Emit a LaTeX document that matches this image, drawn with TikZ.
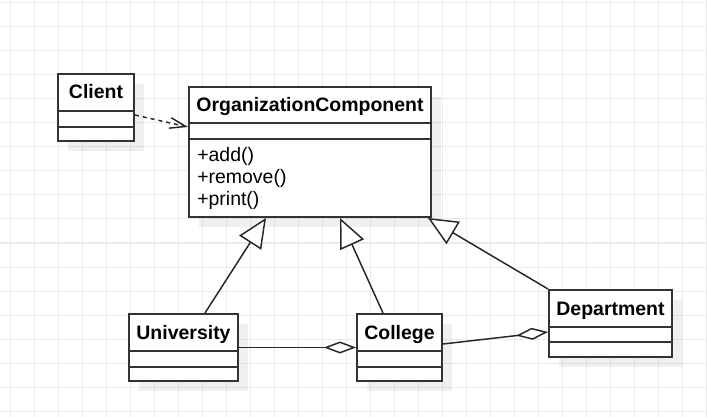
\documentclass[tikz,border=0pt]{standalone}
\usepackage{fontspec}
\setmainfont{Liberation Sans}
\usetikzlibrary{arrows.meta,calc,shadows}

\begin{document}
\begin{tikzpicture}[x=0.75pt,y=-0.75pt,
    gridline/.style={draw=black!8,line width=0.75pt},
    classbox/.style 2 args={draw=black!80,fill=white,line width=1.5pt,inner sep=0pt,
        minimum width=#1,minimum height=#2,
        drop shadow={shadow xshift=7.5pt,shadow yshift=-7.5pt,fill=black,opacity=0.06}},
    sepline/.style={draw=black!80,line width=1.2pt},
    titletext/.style={font=\fontsize{14.6pt}{17pt}\selectfont\bfseries,inner sep=0pt,anchor=base},
    optext/.style={font=\fontsize{14.6pt}{17pt}\selectfont,inner sep=0pt,anchor=base west},
    dep/.style={draw=black!85,line width=1.1pt,dash pattern=on 3pt off 3pt,
        -{Straight Barb[length=12pt,width=8pt]}},
    gen/.style={draw=black!85,line width=1.1pt,
        -{Triangle[open,length=22pt,width=19.5pt,fill=white]}},
    agg/.style={draw=black!85,line width=1.1pt,
        -{Diamond[open,length=24pt,width=9pt,fill=white]}}]
\useasboundingbox (0,0) rectangle (707,417);
\fill[white] (0,0) rectangle (707,417);
% background grid
\foreach \gx in {10,34,...,706} \draw[gridline] (\gx,0) -- (\gx,417);
\foreach \gy in {3,27,...,411} \draw[gridline] (0,\gy) -- (707,\gy);

% classes
\node[classbox={57pt}{50.25pt}] (client) at (96,107.5) {};
\node[classbox={181.5pt}{97.5pt}] (org) at (310,152) {};
\node[classbox={81.75pt}{50.25pt}] (univ) at (183.5,347.5) {};
\node[classbox={63.75pt}{50.25pt}] (college) at (399.5,347.5) {};
\node[classbox={92.25pt}{50.25pt}] (dept) at (610.5,323.5) {};

\foreach \cls/\ya/\yb in {client/38/54, org/37/53, univ/38/54, college/38/54, dept/38/53} {
    \draw[sepline] ($(\cls.north west)+(0,\ya)$) -- ($(\cls.north east)+(0,\ya)$);
    \draw[sepline] ($(\cls.north west)+(0,\yb)$) -- ($(\cls.north east)+(0,\yb)$);
}

\node[titletext] (clienttitle) at ($(client.north)+(0,26)$) {Client};
\node[titletext] (orgtitle) at ($(org.north)+(0,25.5)$) {OrganizationComponent};
\node[titletext] (univtitle) at ($(univ.north)+(0,26)$) {University};
\node[titletext] (collegetitle) at ($(college.north)+(0,26)$) {College};
\node[titletext] (depttitle) at ($(dept.north)+(0,26)$) {Department};

\node[optext] (addop) at (197,162) {+add()};
\node[optext] (removeop) at (197,183.5) {+remove()};
\node[optext] (printop) at (197,205) {+print()};

% relations
\draw[dep] ($(client.east)+(0,7.5)$) -- ($(org.west)+(0,-25)$);
\draw[gen] ($(univ.north)+(21.5,0)$) -- ($(org.south)+(-44,0)$);
\draw[gen] ($(college.north)+(-16.5,0)$) -- ($(org.south)+(30,0)$);
\draw[gen] (dept.north west) -- ($(org.south east)+(-4,0)$);
\draw[agg] (univ.east) -- (college.west);
\draw[agg] ($(college.east)+(0,-3.5)$) -- ($(dept.west)+(0,8.5)$);
\end{tikzpicture}
\end{document}
